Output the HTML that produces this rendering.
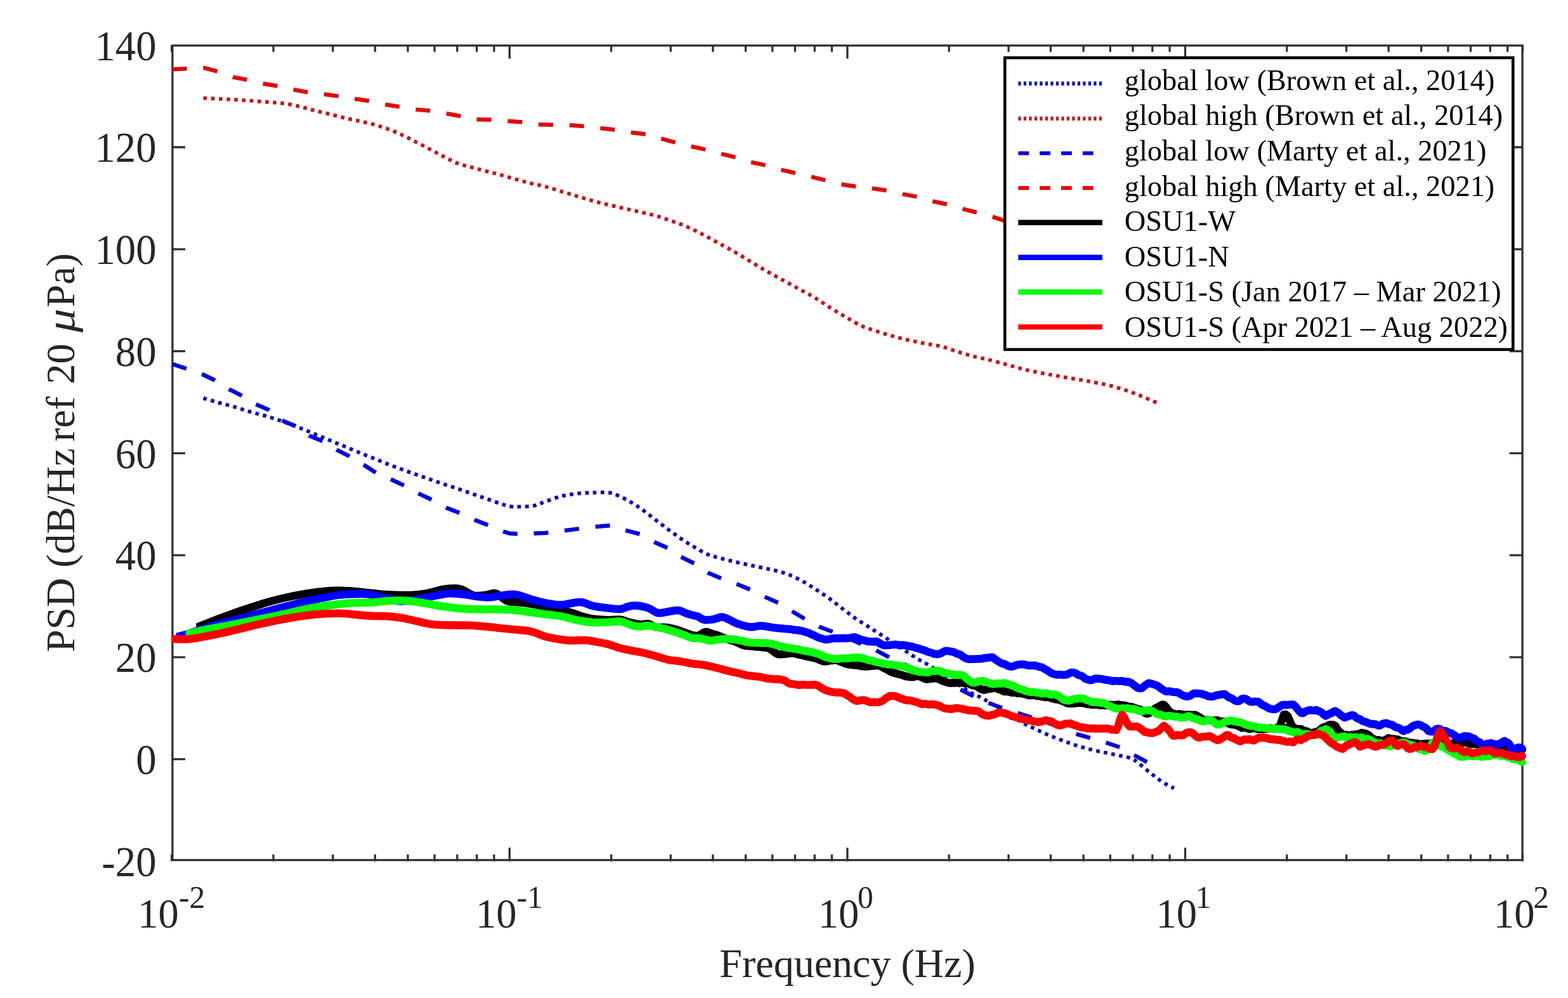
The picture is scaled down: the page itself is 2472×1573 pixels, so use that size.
<!DOCTYPE html>
<html lang="en"><head><meta charset="utf-8"><title>PSD noise comparison</title>
<style>html,body{margin:0;padding:0;background:#fff}body{width:2472px;height:1573px;overflow:hidden}svg{display:block}text{font-family:"Liberation Serif","DejaVu Serif",serif}.t{font-size:64px;fill:#262626}.s{font-size:49px;fill:#262626}.l{font-size:46.4px;fill:#000}.c{fill:none;stroke-linejoin:round}</style></head><body>
<svg xmlns="http://www.w3.org/2000/svg" width="2472" height="1573" viewBox="0 0 2472 1573">
<rect width="2472" height="1573" fill="#fff"/>
<path d="M270.7 1357.4v-10.6M270.7 71.2v10.6M431.0 1357.4v-10.6M431.0 71.2v10.6M524.8 1357.4v-10.6M524.8 71.2v10.6M591.3 1357.4v-10.6M591.3 71.2v10.6M643.0 1357.4v-10.6M643.0 71.2v10.6M685.1 1357.4v-10.6M685.1 71.2v10.6M720.8 1357.4v-10.6M720.8 71.2v10.6M751.7 1357.4v-10.6M751.7 71.2v10.6M778.9 1357.4v-10.6M778.9 71.2v10.6M803.3 1357.4v-21.3M803.3 71.2v21.3M963.6 1357.4v-10.6M963.6 71.2v10.6M1057.4 1357.4v-10.6M1057.4 71.2v10.6M1123.9 1357.4v-10.6M1123.9 71.2v10.6M1175.6 1357.4v-10.6M1175.6 71.2v10.6M1217.7 1357.4v-10.6M1217.7 71.2v10.6M1253.4 1357.4v-10.6M1253.4 71.2v10.6M1284.3 1357.4v-10.6M1284.3 71.2v10.6M1311.5 1357.4v-10.6M1311.5 71.2v10.6M1335.9 1357.4v-21.3M1335.9 71.2v21.3M1496.2 1357.4v-10.6M1496.2 71.2v10.6M1590.0 1357.4v-10.6M1590.0 71.2v10.6M1656.5 1357.4v-10.6M1656.5 71.2v10.6M1708.1 1357.4v-10.6M1708.1 71.2v10.6M1750.3 1357.4v-10.6M1750.3 71.2v10.6M1786.0 1357.4v-10.6M1786.0 71.2v10.6M1816.8 1357.4v-10.6M1816.8 71.2v10.6M1844.1 1357.4v-10.6M1844.1 71.2v10.6M1868.5 1357.4v-21.3M1868.5 71.2v21.3M2028.8 1357.4v-10.6M2028.8 71.2v10.6M2122.6 1357.4v-10.6M2122.6 71.2v10.6M2189.1 1357.4v-10.6M2189.1 71.2v10.6M2240.7 1357.4v-10.6M2240.7 71.2v10.6M2282.9 1357.4v-10.6M2282.9 71.2v10.6M2318.6 1357.4v-10.6M2318.6 71.2v10.6M2349.4 1357.4v-10.6M2349.4 71.2v10.6M2376.7 1357.4v-10.6M2376.7 71.2v10.6M2400.5 1357.4v-10.6M2400.5 71.2v10.6M270.7 1196.6h21.3M2401.1 1196.6h-21.3M270.7 1035.8h21.3M2401.1 1035.8h-21.3M270.7 875.1h21.3M2401.1 875.1h-21.3M270.7 714.3h21.3M2401.1 714.3h-21.3M270.7 553.5h21.3M2401.1 553.5h-21.3M270.7 392.8h21.3M2401.1 392.8h-21.3M270.7 232.0h21.3M2401.1 232.0h-21.3" fill="none" stroke="#303030" stroke-width="3.3"/>
<rect x="271.9" y="71.8" width="2128.2" height="1283.8" fill="none" stroke="#303030" stroke-width="3.3"/>
<g class="c">
<path d="M320.5 627.6C324.5 628.8 336.5 632.3 344.7 634.6C352.9 636.9 361.3 638.9 369.6 641.3C377.9 643.7 386.3 646.7 394.6 649.1C402.9 651.5 411.2 653.3 419.5 655.8C427.8 658.2 436.1 660.9 444.4 663.8C452.7 666.7 461.0 670.0 469.3 673.2C477.6 676.4 485.9 679.8 494.2 683.2C502.5 686.6 510.8 690.2 519.1 693.7C527.4 697.2 535.8 700.5 544.1 703.9C552.4 707.3 560.7 711.0 569.0 714.4C577.3 717.8 585.6 721.0 593.9 724.3C602.2 727.6 610.5 731.1 618.8 734.3C627.1 737.5 635.4 740.5 643.7 743.5C652.0 746.5 660.3 749.3 668.6 752.2C676.9 755.1 685.3 758.2 693.6 761.0C701.9 763.8 710.2 766.4 718.5 769.2C726.8 772.0 735.1 775.0 743.4 777.9C751.7 780.8 760.0 783.7 768.3 786.6C776.6 789.5 787.0 793.3 793.2 795.3C799.4 797.2 801.6 797.8 805.7 798.3C809.9 798.8 812.3 798.8 818.1 798.6C823.9 798.4 833.6 798.6 840.6 797.3C847.6 795.9 852.6 793.0 860.0 790.5C867.4 788.0 876.6 784.3 884.9 782.2C893.2 780.1 901.5 779.0 909.8 778.0C918.1 777.0 926.4 776.8 934.7 776.5C943.0 776.2 953.5 775.9 959.7 776.5C965.9 777.1 966.3 777.7 972.1 780.2C977.9 782.7 987.5 787.3 994.6 791.4C1001.7 795.5 1007.9 799.9 1014.5 804.7C1021.1 809.5 1027.8 815.0 1034.4 820.1C1041.1 825.2 1047.8 830.4 1054.4 835.3C1061.1 840.2 1067.7 845.0 1074.3 849.5C1080.9 854.0 1087.5 858.0 1094.2 862.0C1100.9 866.0 1107.6 870.3 1114.2 873.2C1120.8 876.1 1126.6 877.3 1134.1 879.4C1141.6 881.5 1150.7 883.6 1159.0 885.6C1167.3 887.6 1175.6 889.3 1183.9 891.1C1192.2 892.9 1201.7 894.8 1208.8 896.3C1215.9 897.8 1220.1 898.4 1226.3 900.1C1232.5 901.9 1239.2 903.8 1246.2 906.8C1253.2 909.8 1261.5 914.0 1268.6 918.0C1275.7 922.0 1281.9 926.1 1288.6 930.5C1295.2 934.9 1301.9 939.4 1308.5 944.2C1315.1 949.0 1321.8 954.4 1328.4 959.5C1335.1 964.6 1341.8 970.0 1348.4 974.6C1355.1 979.2 1361.7 983.1 1368.3 987.3C1374.9 991.5 1381.5 995.7 1388.2 1000.0C1394.9 1004.3 1401.6 1008.6 1408.2 1013.0C1414.8 1017.4 1421.5 1022.0 1428.1 1026.4C1434.7 1030.8 1441.5 1035.3 1448.0 1039.3C1454.5 1043.3 1453.9 1041.8 1467.1 1050.2C1480.2 1058.6 1513.6 1081.4 1526.9 1089.6C1540.2 1097.8 1541.1 1096.4 1546.9 1099.5C1552.7 1102.6 1551.4 1102.0 1561.8 1108.3C1572.2 1114.6 1598.0 1130.9 1609.2 1137.4C1620.4 1143.9 1622.5 1144.2 1629.1 1147.4C1635.7 1150.6 1642.3 1153.9 1649.0 1156.8C1655.7 1159.7 1662.3 1162.2 1669.0 1164.8C1675.7 1167.4 1682.3 1170.0 1688.9 1172.3C1695.5 1174.6 1702.2 1176.6 1708.8 1178.5C1715.4 1180.4 1722.1 1182.0 1728.8 1183.5C1735.5 1185.0 1742.1 1186.1 1748.7 1187.5C1755.3 1188.9 1762.8 1190.4 1768.6 1191.7C1774.4 1193.0 1779.4 1193.8 1783.6 1195.5C1787.8 1197.2 1789.4 1198.6 1793.6 1201.7C1797.8 1204.8 1803.5 1210.1 1808.5 1214.2C1813.5 1218.3 1818.5 1222.4 1823.5 1226.1C1828.5 1229.8 1833.8 1233.4 1838.4 1236.1C1843.0 1238.8 1848.8 1241.3 1850.9 1242.3" stroke="#0808b8" stroke-width="5.8" stroke-dasharray="5.7 6.505"/>
<path d="M320.5 154.7C324.9 154.9 338.6 155.5 347.2 155.9C355.8 156.3 363.8 156.7 372.1 157.2C380.4 157.7 388.7 158.3 397.0 158.9C405.3 159.5 414.1 160.3 422.0 160.9C429.9 161.5 436.5 161.7 444.4 162.7C452.3 163.7 461.2 165.3 469.3 167.1C477.4 168.9 485.1 171.4 493.0 173.4C500.9 175.4 508.7 177.2 516.6 179.1C524.5 181.0 532.4 183.2 540.3 185.1C548.2 187.0 556.1 188.5 564.0 190.3C571.9 192.1 579.8 193.6 587.7 195.8C595.6 198.0 603.6 200.5 611.3 203.3C619.0 206.1 626.3 209.2 633.8 212.7C641.3 216.1 648.7 220.2 656.2 224.0C663.7 227.8 671.3 231.9 678.6 235.7C685.9 239.5 692.7 243.3 699.8 246.9C706.9 250.5 713.7 254.5 721.0 257.3C728.3 260.1 735.7 261.5 743.4 263.6C751.1 265.7 759.2 267.9 767.1 270.0C775.0 272.1 782.8 273.8 790.7 276.0C798.6 278.2 806.5 280.8 814.4 283.0C822.3 285.2 830.5 287.3 838.1 289.2C845.7 291.1 852.2 292.1 860.0 294.2C867.8 296.3 876.6 299.2 884.9 301.7C893.2 304.2 901.5 306.7 909.8 309.2C918.1 311.7 926.4 314.3 934.7 316.6C943.0 318.9 951.4 320.9 959.7 322.9C968.0 324.9 976.3 326.7 984.6 328.6C992.9 330.5 1001.2 332.2 1009.5 334.1C1017.8 336.1 1026.1 337.9 1034.4 340.3C1042.7 342.7 1051.0 345.6 1059.3 348.5C1067.6 351.4 1075.9 354.2 1084.2 357.8C1092.5 361.4 1100.9 365.9 1109.2 370.2C1117.5 374.5 1125.8 379.3 1134.1 383.9C1142.4 388.5 1150.5 392.7 1159.0 397.6C1167.5 402.5 1176.4 408.1 1184.9 413.2C1193.4 418.3 1201.5 423.3 1209.8 428.1C1218.1 432.9 1226.5 437.2 1234.8 441.8C1243.1 446.4 1251.4 450.9 1259.7 455.5C1268.0 460.1 1276.3 464.2 1284.6 469.2C1292.9 474.2 1301.2 480.2 1309.5 485.4C1317.8 490.6 1326.1 495.6 1334.4 500.4C1342.7 505.2 1351.0 510.4 1359.3 514.1C1367.6 517.8 1376.0 520.1 1384.3 522.8C1392.6 525.5 1400.9 528.0 1409.2 530.3C1417.5 532.6 1425.8 534.6 1434.1 536.5C1442.4 538.4 1450.7 539.9 1459.0 541.5C1467.3 543.1 1475.6 543.9 1483.9 546.0C1492.2 548.1 1500.5 551.4 1508.8 554.0C1517.1 556.6 1525.3 559.2 1533.8 561.4C1542.3 563.6 1551.5 565.2 1560.0 567.3C1568.5 569.4 1576.9 571.8 1584.9 574.0C1592.9 576.2 1600.5 578.6 1608.2 580.6C1616.0 582.6 1623.4 584.2 1631.4 585.9C1639.4 587.6 1648.3 589.1 1656.3 590.6C1664.3 592.1 1671.6 593.4 1679.6 594.8C1687.6 596.2 1696.5 597.5 1704.5 598.9C1712.5 600.3 1720.0 601.6 1727.8 603.1C1735.5 604.6 1743.0 605.9 1751.0 608.0C1759.0 610.1 1767.9 612.8 1775.9 615.5C1783.9 618.2 1791.6 621.2 1799.2 624.3C1806.8 627.3 1816.6 631.7 1821.6 633.8C1826.6 635.9 1827.8 636.5 1829.0 637.0" stroke="#c4141c" stroke-width="5.8" stroke-dasharray="5.7 6.505"/>
<path d="M271.2 573.6L293.6 581.0L318.6 589.8L338.5 599.2L360.9 613.4L380.8 623.4L403.3 637.1L423.2 645.8L443.1 662.0L465.6 671.5L488.0 687.0L509.2 695.7L531.6 709.4L550.3 718.8L574.0 733.0L592.6 745.0L616.3 755.5L637.5 765.4L659.9 777.9L681.1 787.9L703.5 800.3L724.7 808.5L747.1 819.0L769.6 827.7L793.2 837.7L803.2 840.7L815.6 841.4L840.6 840.9L860.0 840.0L889.9 836.3L913.6 833.3L938.5 830.3L962.2 828.3L985.8 835.8L1009.5 842.0L1030.7 854.0L1053.1 864.0L1073.0 877.4L1095.5 888.6L1116.6 903.1L1137.8 911.8L1161.5 920.5L1183.9 929.7L1205.1 940.4L1227.5 950.4L1247.5 962.9L1269.9 976.1L1291.1 987.8L1314.7 996.5L1380.8 1025.0L1402.3 1036.3L1514.5 1087.0L1532.0 1095.8L1559.3 1108.3L1579.3 1115.7L1621.6 1129.4L1666.5 1144.4L1696.4 1156.8L1718.8 1163.1L1743.7 1170.5L1766.1 1178.0L1788.6 1190.5L1808.5 1201.2" stroke="#0404dc" stroke-width="6.5" stroke-dasharray="23.1 25.77" stroke-dashoffset="-0.8"/>
<path d="M271.2 109.3L294.9 108.3L322.3 107.1L342.2 112.3L367.1 121.5L389.6 125.8L414.5 131.8L438.2 135.7L463.1 141.2L485.5 145.5L510.4 148.5L534.1 151.7L559.0 155.7L582.7 159.2L607.6 164.7L631.3 168.4L654.9 172.6L678.6 174.6L703.5 178.9L727.2 183.1L750.9 188.3L774.5 188.8L799.5 190.6L823.1 192.6L848.0 196.3L872.5 196.8L897.4 197.3L921.0 199.0L946.0 202.0L969.6 204.5L994.6 208.8L1018.2 211.5L1043.1 218.7L1065.6 225.0L1089.2 230.7L1112.9 235.7L1137.8 242.6L1160.3 248.1L1183.9 255.6L1207.6 260.6L1231.3 267.6L1254.9 273.0L1278.6 278.5L1302.3 284.3L1326.0 290.5L1350.4 294.2L1374.5 296.7L1399.5 300.5L1423.1 305.9L1446.8 310.4L1470.2 317.2L1493.9 322.2L1517.6 329.2L1541.2 335.2L1564.9 341.7L1582.4 347.6L1600.0 353.5" stroke="#e00a0a" stroke-width="6.5" stroke-dasharray="23.1 25.75" stroke-dashoffset="-0.3"/>
<defs><clipPath id="k0"><rect x="309.2" y="0" width="2300" height="1573"/></clipPath><clipPath id="k1"><rect x="277.4" y="0" width="2300" height="1573"/></clipPath><clipPath id="k2"><rect x="292.6" y="0" width="2300" height="1573"/></clipPath><clipPath id="k3"><rect x="270.3" y="0" width="2300" height="1573"/></clipPath></defs>
<path d="M301.2 992.7L309.2 989.4C313.4 987.7 326.3 982.2 334.7 979.0C343.1 975.8 351.4 972.9 359.7 969.9C368.0 966.9 376.3 963.8 384.6 961.0C392.9 958.2 401.2 955.4 409.5 952.9C417.8 950.4 426.1 947.9 434.4 945.8C442.7 943.6 451.0 941.7 459.3 940.0C467.6 938.3 475.9 936.7 484.2 935.4C492.5 934.1 500.9 932.9 509.2 932.1C517.5 931.3 525.6 930.8 534.1 930.8C542.6 930.8 547.4 931.2 560.0 932.3C572.6 933.4 595.3 936.4 609.8 937.3C624.3 938.2 636.8 938.2 647.2 937.9C657.6 937.6 663.8 936.8 672.1 935.4C680.4 934.0 689.7 930.6 697.0 929.2C704.3 927.9 710.5 927.3 715.7 927.3C720.9 927.3 723.0 927.3 728.2 929.2C733.4 931.1 740.7 937.2 746.9 938.6C753.1 940.0 759.8 938.4 765.6 937.9C771.4 937.4 776.1 933.8 781.8 935.4C787.5 937.0 793.4 944.9 800.0 947.3C806.6 949.7 814.9 949.0 821.6 949.8C828.3 950.6 833.9 951.2 840.3 952.3C846.7 953.4 850.5 954.4 860.0 956.5C869.5 958.6 888.0 962.4 897.4 964.8C906.8 967.2 909.9 969.2 916.1 971.0C922.3 972.8 927.4 974.4 934.7 975.4C942.0 976.4 952.4 977.0 959.7 977.2C967.0 977.4 973.2 976.1 978.4 976.6C983.6 977.1 985.6 979.1 990.8 980.4C996.0 981.6 1004.3 983.6 1009.5 984.1C1014.7 984.6 1017.9 982.5 1022.0 983.2C1026.2 983.9 1029.2 987.5 1034.4 988.5C1039.6 989.5 1046.9 988.2 1053.1 989.1C1059.3 990.0 1065.6 992.1 1071.8 994.1C1078.0 996.1 1085.9 999.5 1090.5 1000.9C1095.1 1002.2 1097.6 1002.0 1099.2 1002.2C1100.8 1002.4 1099.9 1002.1 1100.0 1002.1L1103.0 1001.0 1106.0 999.1 1109.0 997.1 1112.0 996.0 1115.0 996.1 1118.0 997.1 1121.0 998.2 1124.0 999.2 1127.0 1000.0 1130.0 1000.9 1133.0 1002.0 1136.0 1003.3 1139.0 1004.5 1142.0 1005.7 1145.0 1006.8 1148.0 1007.7 1151.0 1008.7 1154.0 1009.5 1157.0 1010.6 1160.0 1011.7 1163.0 1013.0 1166.0 1014.5 1169.0 1016.0 1172.0 1017.0 1175.0 1017.6 1178.0 1018.1 1181.0 1018.2 1184.0 1018.5 1187.0 1018.8 1190.0 1019.2 1193.0 1019.4 1196.0 1019.6 1199.0 1019.9 1202.0 1020.3 1205.0 1020.6 1208.0 1020.8 1211.0 1021.2 1214.0 1022.8 1217.0 1024.9 1220.0 1027.2 1223.0 1029.4 1226.0 1031.0 1229.0 1031.4 1232.0 1031.2 1235.0 1031.1 1238.0 1030.9 1241.0 1030.4 1244.0 1030.0 1247.0 1029.8 1250.0 1029.8 1253.0 1030.1 1256.0 1030.8 1259.0 1031.8 1262.0 1032.3 1265.0 1032.8 1268.0 1033.8 1271.0 1034.4 1274.0 1035.0 1277.0 1035.7 1280.0 1036.5 1283.0 1036.9 1286.0 1037.5 1289.0 1038.8 1292.0 1040.2 1295.0 1041.3 1298.0 1042.2 1301.0 1042.4 1304.0 1042.3 1307.0 1041.5 1310.0 1041.0 1313.0 1040.9 1316.0 1040.4 1319.0 1040.7 1322.0 1041.6 1325.0 1042.9 1328.0 1044.0 1331.0 1045.0 1334.0 1046.4 1337.0 1047.0 1340.0 1047.5 1343.0 1048.1 1346.0 1048.2 1349.0 1048.4 1352.0 1048.6 1355.0 1049.3 1358.0 1050.0 1361.0 1050.3 1364.0 1050.6 1367.0 1050.5 1370.0 1050.3 1373.0 1049.7 1376.0 1049.6 1379.0 1049.2 1382.0 1048.9 1385.0 1048.9 1388.0 1049.8 1391.0 1051.5 1394.0 1053.3 1397.0 1054.6 1400.0 1056.0 1403.0 1058.1 1406.0 1059.5 1409.0 1060.6 1412.0 1061.3 1415.0 1062.1 1418.0 1062.8 1421.0 1063.5 1424.0 1064.7 1427.0 1065.8 1430.0 1066.4 1433.0 1066.5 1436.0 1067.1 1439.0 1067.2 1442.0 1066.6 1445.0 1065.5 1448.0 1065.8 1451.0 1066.6 1454.0 1067.9 1457.0 1069.5 1460.0 1070.6 1463.0 1070.5 1466.0 1069.9 1469.0 1069.5 1472.0 1069.4 1475.0 1069.1 1478.0 1069.5 1481.0 1070.9 1484.0 1072.4 1487.0 1073.8 1490.0 1074.4 1493.0 1075.6 1496.0 1076.3 1499.0 1076.8 1502.0 1076.4 1505.0 1076.6 1508.0 1076.1 1511.0 1075.8 1514.0 1076.3 1517.0 1076.3 1520.0 1076.7 1523.0 1077.1 1526.0 1077.3 1529.0 1078.6 1532.0 1079.6 1535.0 1080.4 1538.0 1081.1 1541.0 1082.3 1544.0 1084.6 1547.0 1086.4 1550.0 1087.4 1553.0 1087.2 1556.0 1086.2 1559.0 1085.8 1562.0 1085.5 1565.0 1084.9 1568.0 1084.3 1571.0 1084.8 1574.0 1086.3 1577.0 1086.9 1580.0 1088.5 1583.0 1090.0 1586.0 1089.9 1589.0 1089.7 1592.0 1091.0 1595.0 1091.7 1598.0 1091.6 1601.0 1091.8 1604.0 1092.7 1607.0 1092.8 1610.0 1092.6 1613.0 1093.6 1616.0 1094.2 1619.0 1095.0 1622.0 1096.0 1625.0 1095.9 1628.0 1095.8 1631.0 1095.7 1634.0 1096.8 1637.0 1096.6 1640.0 1097.5 1643.0 1098.1 1646.0 1098.6 1649.0 1099.1 1652.0 1098.9 1655.0 1099.2 1658.0 1100.8 1661.0 1101.2 1664.0 1102.2 1667.0 1102.5 1670.0 1103.0 1673.0 1104.4 1676.0 1105.2 1679.0 1106.7 1682.0 1108.4 1685.0 1108.8 1688.0 1109.0 1691.0 1108.9 1694.0 1108.8 1697.0 1108.0 1700.0 1107.8 1703.0 1108.0 1706.0 1108.1 1709.0 1108.6 1712.0 1109.2 1715.0 1110.1 1718.0 1110.2 1721.0 1110.8 1724.0 1110.8 1727.0 1110.5 1730.0 1110.7 1733.0 1111.6 1736.0 1111.2 1739.0 1111.5 1742.0 1112.0 1745.0 1111.5 1748.0 1110.7 1751.0 1110.9 1754.0 1110.9 1757.0 1111.4 1760.0 1110.8 1763.0 1110.5 1766.0 1111.1 1769.0 1111.6 1772.0 1111.7 1775.0 1112.3 1778.0 1113.4 1781.0 1114.0 1784.0 1114.0 1787.0 1115.1 1790.0 1116.3 1793.0 1117.3 1796.0 1117.8 1799.0 1119.0 1802.0 1121.7 1805.0 1123.7 1808.0 1124.9 1811.0 1124.6 1814.0 1122.0 1817.0 1120.0 1820.0 1117.5 1823.0 1115.5 1826.0 1114.0 1829.0 1112.4 1832.0 1110.7 1835.0 1110.8 1838.0 1113.8 1841.0 1118.0 1844.0 1121.4 1847.0 1123.8 1850.0 1124.5 1853.0 1125.6 1856.0 1125.9 1859.0 1125.2 1862.0 1126.0 1865.0 1126.3 1868.0 1126.7 1871.0 1126.6 1874.0 1126.3 1877.0 1127.1 1880.0 1126.8 1883.0 1126.7 1886.0 1127.4 1889.0 1129.1 1892.0 1130.9 1895.0 1133.3 1898.0 1134.6 1901.0 1135.2 1904.0 1134.7 1907.0 1135.3 1910.0 1135.6 1913.0 1135.5 1916.0 1135.4 1919.0 1135.3 1922.0 1136.3 1925.0 1137.4 1928.0 1136.9 1931.0 1137.1 1934.0 1138.9 1937.0 1140.5 1940.0 1141.7 1943.0 1142.0 1946.0 1142.4 1949.0 1143.0 1952.0 1144.3 1955.0 1145.8 1958.0 1147.4 1961.0 1147.1 1964.0 1147.0 1967.0 1148.3 1970.0 1149.1 1973.0 1148.4 1976.0 1148.1 1979.0 1148.1 1982.0 1149.2 1985.0 1149.3 1988.0 1148.9 1991.0 1149.6 1994.0 1149.0 1997.0 1149.1 2000.0 1148.4 2003.0 1147.6 2006.0 1148.2 2009.0 1148.5 2012.0 1147.5 2015.0 1146.0 2018.0 1143.9 2021.0 1135.2 2024.0 1126.3 2027.0 1126.1 2030.0 1128.4 2033.0 1135.4 2036.0 1142.1 2039.0 1146.5 2042.0 1148.0 2045.0 1148.7 2048.0 1149.1 2051.0 1149.1 2054.0 1150.6 2057.0 1152.2 2060.0 1152.5 2063.0 1153.8 2066.0 1155.3 2069.0 1155.2 2072.0 1154.3 2075.0 1153.3 2078.0 1152.8 2081.0 1150.2 2084.0 1147.6 2087.0 1146.1 2090.0 1145.5 2093.0 1143.9 2096.0 1142.5 2099.0 1142.1 2102.0 1142.4 2105.0 1143.8 2108.0 1148.7 2111.0 1152.9 2114.0 1154.8 2117.0 1157.8 2120.0 1158.7 2123.0 1158.3 2126.0 1159.3 2129.0 1158.9 2132.0 1157.9 2135.0 1157.9 2138.0 1157.3 2141.0 1157.2 2144.0 1156.1 2147.0 1154.9 2150.0 1155.7 2153.0 1156.2 2156.0 1157.6 2159.0 1159.5 2162.0 1163.6 2165.0 1164.4 2168.0 1166.2 2171.0 1166.5 2174.0 1166.2 2177.0 1167.8 2180.0 1168.2 2183.0 1166.4 2186.0 1165.4 2189.0 1163.2 2192.0 1164.0 2195.0 1164.8 2198.0 1164.6 2201.0 1165.6 2204.0 1165.6 2207.0 1167.4 2210.0 1168.9 2213.0 1168.3 2216.0 1168.7 2219.0 1169.7 2222.0 1170.7 2225.0 1170.7 2228.0 1170.9 2231.0 1171.9 2234.0 1171.6 2237.0 1172.7 2240.0 1172.9 2243.0 1172.4 2246.0 1172.7 2249.0 1171.7 2252.0 1172.7 2255.0 1171.5 2258.0 1171.3 2261.0 1172.7 2264.0 1171.0 2267.0 1171.1 2270.0 1172.5 2273.0 1172.9 2276.0 1171.2 2279.0 1171.0 2282.0 1172.2 2285.0 1171.8 2288.0 1172.0 2291.0 1171.8 2294.0 1169.9 2297.0 1169.8 2300.0 1171.6 2303.0 1171.3 2306.0 1170.7 2309.0 1170.5 2312.0 1170.2 2315.0 1171.6 2318.0 1171.8 2321.0 1172.9 2324.0 1171.7 2327.0 1173.0 2330.0 1172.5 2333.0 1173.7 2336.0 1174.2 2339.0 1174.8 2342.0 1174.8 2345.0 1174.1 2348.0 1176.0 2351.0 1176.7 2354.0 1175.5 2357.0 1176.3 2360.0 1176.2 2363.0 1176.5 2366.0 1177.6 2369.0 1178.3 2372.0 1177.5 2375.0 1177.4 2378.0 1178.6 2381.0 1179.6 2384.0 1180.9 2387.0 1181.1 2390.0 1181.8 2393.0 1181.6 2396.0 1181.2 2399.0 1181.7 2401.0 1181.6" stroke="#000" stroke-width="12.5" clip-path="url(#k0)"/><circle cx="2400.0" cy="1181.6" r="6.1" fill="#000" stroke="none"/>
<path d="M2013.0 1147.3L2041.0 1147.8" stroke="#000" stroke-width="12.5"/>
<path d="M1825.0 1119.5L1842.0 1121.0" stroke="#000" stroke-width="12.5"/>
<path d="M269.4 1006.0L277.4 1004.0C279.9 1003.4 283.1 1003.1 292.6 1000.2C302.2 997.3 319.4 991.0 334.7 986.5C350.0 982.0 368.0 977.8 384.6 973.4C401.2 969.0 419.9 963.8 434.4 960.0C448.9 956.2 459.3 953.6 471.8 950.6C484.3 947.6 498.8 944.4 509.2 942.3C519.6 940.2 525.6 938.9 534.1 937.9C542.6 936.9 551.5 936.3 560.0 936.2C568.5 936.1 574.5 935.6 584.9 937.3C595.3 939.0 611.9 945.0 622.3 946.6C632.7 948.2 638.9 947.4 647.2 946.6C655.5 945.8 665.9 942.9 672.1 941.7C678.3 940.5 678.4 940.3 684.6 939.2C690.8 938.1 701.2 935.5 709.5 935.2C717.8 934.9 727.1 936.4 734.4 937.3C741.7 938.2 746.9 939.7 753.1 940.4C759.3 941.1 765.6 941.6 771.8 941.3C778.0 941.0 784.3 939.4 790.5 938.6C796.7 937.8 804.0 936.6 809.2 936.7C814.4 936.8 816.4 937.8 821.6 939.2C826.8 940.7 833.9 943.5 840.3 945.4C846.7 947.3 852.6 949.2 860.0 950.5C867.4 951.8 875.8 953.5 884.9 953.3C894.0 953.0 906.5 948.7 914.8 949.0C923.1 949.3 927.2 953.5 934.7 955.1C942.2 956.7 952.4 957.8 959.7 958.6C967.0 959.4 973.2 960.5 978.4 960.0C983.6 959.5 986.6 956.7 990.8 955.8C994.9 954.9 998.1 954.2 1003.3 954.6C1008.5 955.0 1016.4 956.4 1022.0 958.3C1027.6 960.2 1031.7 965.0 1036.9 966.0C1042.1 967.0 1047.7 964.9 1053.1 964.2C1058.5 963.5 1064.1 961.5 1069.3 962.0C1074.5 962.5 1079.2 966.0 1084.2 967.5C1089.2 969.0 1096.6 970.6 1099.2 971.3C1101.8 972.0 1099.9 971.6 1100.0 971.6L1103.0 973.2 1106.0 975.1 1109.0 976.6 1112.0 977.2 1115.0 977.1 1118.0 976.9 1121.0 976.6 1124.0 976.2 1127.0 975.6 1130.0 974.7 1133.0 973.6 1136.0 972.7 1139.0 972.5 1142.0 973.3 1145.0 974.5 1148.0 975.9 1151.0 977.4 1154.0 978.8 1157.0 980.6 1160.0 981.9 1163.0 983.1 1166.0 984.1 1169.0 985.1 1172.0 986.0 1175.0 986.7 1178.0 987.5 1181.0 988.0 1184.0 988.3 1187.0 988.3 1190.0 987.7 1193.0 987.1 1196.0 986.7 1199.0 986.4 1202.0 986.5 1205.0 986.9 1208.0 987.4 1211.0 987.9 1214.0 988.4 1217.0 988.9 1220.0 989.4 1223.0 989.6 1226.0 990.0 1229.0 990.3 1232.0 990.5 1235.0 990.8 1238.0 991.1 1241.0 991.4 1244.0 991.6 1247.0 991.8 1250.0 992.5 1253.0 993.0 1256.0 993.1 1259.0 993.5 1262.0 994.1 1265.0 994.6 1268.0 995.5 1271.0 996.5 1274.0 997.3 1277.0 998.6 1280.0 1000.1 1283.0 1001.3 1286.0 1002.7 1289.0 1004.4 1292.0 1005.4 1295.0 1006.3 1298.0 1007.2 1301.0 1008.0 1304.0 1008.1 1307.0 1007.6 1310.0 1006.8 1313.0 1006.2 1316.0 1006.2 1319.0 1005.9 1322.0 1006.2 1325.0 1005.9 1328.0 1005.9 1331.0 1005.7 1334.0 1005.9 1337.0 1005.9 1340.0 1005.5 1343.0 1005.0 1346.0 1004.3 1349.0 1004.6 1352.0 1005.9 1355.0 1007.3 1358.0 1008.3 1361.0 1009.0 1364.0 1009.7 1367.0 1010.7 1370.0 1011.0 1373.0 1011.3 1376.0 1011.5 1379.0 1011.5 1382.0 1011.0 1385.0 1012.5 1388.0 1014.8 1391.0 1016.1 1394.0 1017.1 1397.0 1017.1 1400.0 1016.9 1403.0 1016.7 1406.0 1016.4 1409.0 1016.1 1412.0 1015.8 1415.0 1016.4 1418.0 1017.0 1421.0 1016.8 1424.0 1016.8 1427.0 1017.2 1430.0 1017.6 1433.0 1018.5 1436.0 1018.8 1439.0 1019.4 1442.0 1020.5 1445.0 1021.3 1448.0 1021.9 1451.0 1023.2 1454.0 1024.0 1457.0 1024.9 1460.0 1026.1 1463.0 1027.5 1466.0 1028.3 1469.0 1029.0 1472.0 1030.5 1475.0 1030.8 1478.0 1031.2 1481.0 1030.7 1484.0 1029.3 1487.0 1027.6 1490.0 1025.9 1493.0 1025.8 1496.0 1026.3 1499.0 1026.8 1502.0 1027.4 1505.0 1028.3 1508.0 1029.9 1511.0 1030.8 1514.0 1031.9 1517.0 1034.1 1520.0 1036.2 1523.0 1038.0 1526.0 1038.7 1529.0 1038.9 1532.0 1038.8 1535.0 1038.8 1538.0 1038.8 1541.0 1038.4 1544.0 1038.4 1547.0 1038.2 1550.0 1037.8 1553.0 1036.9 1556.0 1036.8 1559.0 1036.6 1562.0 1036.0 1565.0 1036.1 1568.0 1038.4 1571.0 1040.5 1574.0 1042.5 1577.0 1044.3 1580.0 1045.8 1583.0 1046.4 1586.0 1047.9 1589.0 1049.4 1592.0 1050.5 1595.0 1050.8 1598.0 1050.0 1601.0 1048.8 1604.0 1047.7 1607.0 1047.4 1610.0 1047.0 1613.0 1047.2 1616.0 1047.5 1619.0 1048.4 1622.0 1049.1 1625.0 1049.1 1628.0 1048.9 1631.0 1048.7 1634.0 1049.7 1637.0 1050.5 1640.0 1051.4 1643.0 1051.9 1646.0 1053.9 1649.0 1055.2 1652.0 1057.3 1655.0 1059.2 1658.0 1061.2 1661.0 1062.3 1664.0 1063.1 1667.0 1063.6 1670.0 1063.2 1673.0 1063.4 1676.0 1063.9 1679.0 1063.7 1682.0 1063.2 1685.0 1061.6 1688.0 1060.3 1691.0 1059.9 1694.0 1060.4 1697.0 1061.8 1700.0 1063.9 1703.0 1064.6 1706.0 1065.6 1709.0 1068.2 1712.0 1070.2 1715.0 1071.0 1718.0 1071.9 1721.0 1072.0 1724.0 1070.7 1727.0 1069.6 1730.0 1069.5 1733.0 1070.1 1736.0 1070.0 1739.0 1070.7 1742.0 1071.5 1745.0 1071.8 1748.0 1072.1 1751.0 1073.0 1754.0 1073.7 1757.0 1073.3 1760.0 1073.3 1763.0 1073.6 1766.0 1073.4 1769.0 1073.2 1772.0 1074.1 1775.0 1074.8 1778.0 1074.3 1781.0 1075.4 1784.0 1076.8 1787.0 1079.2 1790.0 1081.5 1793.0 1083.9 1796.0 1084.6 1799.0 1085.0 1802.0 1083.3 1805.0 1080.4 1808.0 1078.4 1811.0 1076.7 1814.0 1077.3 1817.0 1078.1 1820.0 1079.1 1823.0 1080.2 1826.0 1081.7 1829.0 1084.2 1832.0 1086.1 1835.0 1088.1 1838.0 1089.8 1841.0 1089.8 1844.0 1089.4 1847.0 1090.3 1850.0 1090.8 1853.0 1091.0 1856.0 1091.1 1859.0 1092.5 1862.0 1094.5 1865.0 1096.1 1868.0 1097.2 1871.0 1097.9 1874.0 1097.5 1877.0 1096.4 1880.0 1094.1 1883.0 1092.8 1886.0 1093.1 1889.0 1092.9 1892.0 1093.2 1895.0 1093.7 1898.0 1095.0 1901.0 1095.7 1904.0 1097.2 1907.0 1097.8 1910.0 1097.9 1913.0 1097.7 1916.0 1096.4 1919.0 1095.5 1922.0 1095.2 1925.0 1094.6 1928.0 1094.3 1931.0 1094.1 1934.0 1096.5 1937.0 1099.1 1940.0 1099.9 1943.0 1101.3 1946.0 1103.9 1949.0 1105.0 1952.0 1105.2 1955.0 1104.2 1958.0 1101.4 1961.0 1101.0 1964.0 1101.6 1967.0 1103.3 1970.0 1105.7 1973.0 1106.1 1976.0 1106.2 1979.0 1105.6 1982.0 1105.9 1985.0 1106.7 1988.0 1109.3 1991.0 1111.4 1994.0 1112.6 1997.0 1114.6 2000.0 1115.9 2003.0 1117.2 2006.0 1117.6 2009.0 1118.1 2012.0 1117.4 2015.0 1115.3 2018.0 1113.1 2021.0 1111.3 2024.0 1110.8 2027.0 1111.2 2030.0 1111.3 2033.0 1110.4 2036.0 1110.4 2039.0 1110.5 2042.0 1113.2 2045.0 1117.0 2048.0 1120.4 2051.0 1123.7 2054.0 1124.2 2057.0 1121.9 2060.0 1120.7 2063.0 1119.6 2066.0 1119.2 2069.0 1119.6 2072.0 1119.9 2075.0 1119.0 2078.0 1120.7 2081.0 1121.3 2084.0 1123.4 2087.0 1126.3 2090.0 1128.4 2093.0 1126.9 2096.0 1124.7 2099.0 1124.3 2102.0 1121.8 2105.0 1120.8 2108.0 1122.4 2111.0 1124.5 2114.0 1127.2 2117.0 1129.2 2120.0 1131.2 2123.0 1130.0 2126.0 1128.9 2129.0 1127.8 2132.0 1127.1 2135.0 1128.2 2138.0 1131.2 2141.0 1132.8 2144.0 1133.3 2147.0 1135.9 2150.0 1137.2 2153.0 1137.8 2156.0 1139.2 2159.0 1140.4 2162.0 1141.2 2165.0 1141.0 2168.0 1141.4 2171.0 1142.6 2174.0 1143.7 2177.0 1142.7 2180.0 1140.8 2183.0 1139.9 2186.0 1139.8 2189.0 1141.1 2192.0 1141.9 2195.0 1142.5 2198.0 1144.8 2201.0 1146.3 2204.0 1147.0 2207.0 1148.3 2210.0 1150.9 2213.0 1152.4 2216.0 1150.4 2219.0 1150.2 2222.0 1148.5 2225.0 1146.1 2228.0 1144.0 2231.0 1143.1 2234.0 1142.0 2237.0 1142.0 2240.0 1143.1 2243.0 1145.2 2246.0 1146.1 2249.0 1148.5 2252.0 1152.2 2255.0 1153.1 2258.0 1153.2 2261.0 1152.1 2264.0 1149.2 2267.0 1148.5 2270.0 1149.2 2273.0 1151.0 2276.0 1152.7 2279.0 1151.9 2282.0 1153.7 2285.0 1155.2 2288.0 1155.7 2291.0 1157.8 2294.0 1159.5 2297.0 1161.9 2300.0 1163.5 2303.0 1163.0 2306.0 1161.2 2309.0 1160.1 2312.0 1161.0 2315.0 1160.4 2318.0 1161.5 2321.0 1163.5 2324.0 1164.0 2327.0 1167.3 2330.0 1168.7 2333.0 1170.0 2336.0 1172.6 2339.0 1174.3 2342.0 1173.9 2345.0 1172.0 2348.0 1171.7 2351.0 1171.3 2354.0 1172.6 2357.0 1173.0 2360.0 1172.9 2363.0 1173.2 2366.0 1171.6 2369.0 1169.2 2372.0 1167.8 2375.0 1169.7 2378.0 1171.3 2381.0 1175.2 2384.0 1181.0 2387.0 1179.7 2390.0 1179.7 2393.0 1178.3 2396.0 1178.2 2399.0 1179.7 2401.0 1181.1" stroke="#0000fe" stroke-width="12.5" clip-path="url(#k1)"/><circle cx="2400.0" cy="1181.1" r="6.1" fill="#0000fe" stroke="none"/>
<path d="M284.6 1002.3L292.6 1000.2C295.5 999.4 302.8 997.2 309.8 995.6C316.8 994.0 326.4 991.9 334.7 990.3C343.0 988.7 351.4 987.5 359.7 985.9C368.0 984.3 376.3 982.6 384.6 980.9C392.9 979.2 401.2 977.6 409.5 975.9C417.8 974.2 426.1 972.7 434.4 970.9C442.7 969.1 451.0 967.2 459.3 965.3C467.6 963.4 475.9 961.4 484.2 959.7C492.5 958.1 500.9 956.6 509.2 955.4C517.5 954.2 525.6 953.1 534.1 952.3C542.6 951.4 551.5 950.7 560.0 950.3C568.5 949.9 576.6 950.3 584.9 949.8C593.2 949.3 601.5 947.8 609.8 947.3C618.1 946.8 626.4 946.3 634.7 946.6C643.0 946.9 651.4 948.0 659.7 949.1C668.0 950.2 676.3 952.1 684.6 953.5C692.9 954.9 701.2 956.2 709.5 957.2C717.8 958.2 726.1 959.2 734.4 959.7C742.7 960.2 751.0 960.3 759.3 960.4C767.6 960.5 775.9 960.2 784.2 960.4C792.5 960.6 800.9 960.9 809.2 961.6C817.5 962.3 825.6 963.6 834.1 964.7C842.6 965.8 851.5 967.2 860.0 968.3C868.5 969.4 876.6 969.8 884.9 971.3C893.2 972.8 901.5 975.9 909.8 977.5C918.1 979.1 926.4 980.5 934.7 981.0C943.0 981.5 952.4 981.0 959.7 980.7C967.0 980.5 972.2 978.6 978.4 979.5C984.6 980.4 991.8 984.7 997.0 986.0C1002.2 987.3 1005.3 987.5 1009.5 987.5C1013.7 987.5 1016.8 985.9 1022.0 986.2C1027.2 986.5 1034.4 988.1 1040.6 989.5C1046.8 990.9 1053.1 992.5 1059.3 994.4C1065.5 996.3 1072.8 998.8 1078.0 1000.7C1083.2 1002.6 1086.8 1004.7 1090.5 1005.6C1094.2 1006.5 1098.4 1005.9 1100.0 1006.0L1103.0 1006.1 1106.0 1006.6 1109.0 1007.4 1112.0 1008.3 1115.0 1009.1 1118.0 1009.7 1121.0 1009.9 1124.0 1009.6 1127.0 1009.0 1130.0 1008.4 1133.0 1007.9 1136.0 1007.7 1139.0 1007.4 1142.0 1007.2 1145.0 1007.1 1148.0 1007.1 1151.0 1007.2 1154.0 1007.5 1157.0 1008.0 1160.0 1008.3 1163.0 1008.7 1166.0 1009.4 1169.0 1009.9 1172.0 1010.5 1175.0 1011.3 1178.0 1012.1 1181.0 1012.4 1184.0 1012.8 1187.0 1013.1 1190.0 1013.1 1193.0 1013.2 1196.0 1013.3 1199.0 1013.4 1202.0 1013.6 1205.0 1013.5 1208.0 1013.5 1211.0 1013.9 1214.0 1014.3 1217.0 1014.8 1220.0 1015.6 1223.0 1016.6 1226.0 1017.3 1229.0 1018.0 1232.0 1018.8 1235.0 1019.4 1238.0 1020.2 1241.0 1020.9 1244.0 1021.1 1247.0 1021.8 1250.0 1022.4 1253.0 1022.7 1256.0 1023.1 1259.0 1023.7 1262.0 1024.3 1265.0 1025.2 1268.0 1025.8 1271.0 1026.1 1274.0 1026.7 1277.0 1027.4 1280.0 1027.8 1283.0 1028.8 1286.0 1029.5 1289.0 1030.2 1292.0 1031.3 1295.0 1032.6 1298.0 1034.1 1301.0 1035.4 1304.0 1036.3 1307.0 1037.0 1310.0 1037.5 1313.0 1038.6 1316.0 1038.8 1319.0 1038.4 1322.0 1038.6 1325.0 1038.1 1328.0 1037.6 1331.0 1037.6 1334.0 1037.5 1337.0 1037.6 1340.0 1037.2 1343.0 1036.6 1346.0 1036.7 1349.0 1036.5 1352.0 1036.1 1355.0 1036.4 1358.0 1036.9 1361.0 1038.0 1364.0 1038.5 1367.0 1039.7 1370.0 1040.7 1373.0 1041.0 1376.0 1041.5 1379.0 1043.0 1382.0 1043.6 1385.0 1044.0 1388.0 1044.7 1391.0 1045.7 1394.0 1046.3 1397.0 1046.7 1400.0 1047.4 1403.0 1047.3 1406.0 1047.3 1409.0 1048.2 1412.0 1048.4 1415.0 1049.0 1418.0 1049.2 1421.0 1049.6 1424.0 1050.1 1427.0 1051.3 1430.0 1052.2 1433.0 1053.5 1436.0 1055.3 1439.0 1056.7 1442.0 1057.2 1445.0 1057.7 1448.0 1058.6 1451.0 1059.1 1454.0 1059.0 1457.0 1059.4 1460.0 1060.0 1463.0 1059.6 1466.0 1058.8 1469.0 1057.7 1472.0 1057.7 1475.0 1057.7 1478.0 1057.1 1481.0 1057.3 1484.0 1058.8 1487.0 1059.8 1490.0 1060.5 1493.0 1061.1 1496.0 1061.7 1499.0 1062.5 1502.0 1063.2 1505.0 1063.7 1508.0 1063.8 1511.0 1063.5 1514.0 1064.0 1517.0 1064.0 1520.0 1065.8 1523.0 1068.7 1526.0 1070.9 1529.0 1073.5 1532.0 1075.4 1535.0 1076.1 1538.0 1075.5 1541.0 1074.6 1544.0 1073.4 1547.0 1073.4 1550.0 1073.3 1553.0 1074.3 1556.0 1075.3 1559.0 1076.5 1562.0 1077.4 1565.0 1077.9 1568.0 1078.1 1571.0 1077.5 1574.0 1077.0 1577.0 1077.5 1580.0 1077.2 1583.0 1076.5 1586.0 1077.1 1589.0 1078.2 1592.0 1079.2 1595.0 1080.3 1598.0 1081.0 1601.0 1082.9 1604.0 1084.2 1607.0 1085.6 1610.0 1086.6 1613.0 1087.0 1616.0 1088.9 1619.0 1089.5 1622.0 1090.3 1625.0 1090.7 1628.0 1090.6 1631.0 1090.8 1634.0 1091.7 1637.0 1091.9 1640.0 1092.3 1643.0 1093.3 1646.0 1092.9 1649.0 1092.6 1652.0 1093.2 1655.0 1094.1 1658.0 1094.9 1661.0 1094.6 1664.0 1095.0 1667.0 1095.8 1670.0 1097.3 1673.0 1099.7 1676.0 1102.6 1679.0 1103.5 1682.0 1104.1 1685.0 1104.3 1688.0 1103.6 1691.0 1102.4 1694.0 1101.4 1697.0 1101.6 1700.0 1100.7 1703.0 1100.5 1706.0 1100.9 1709.0 1101.3 1712.0 1103.2 1715.0 1103.8 1718.0 1105.0 1721.0 1106.3 1724.0 1106.7 1727.0 1106.2 1730.0 1107.0 1733.0 1107.0 1736.0 1108.0 1739.0 1107.8 1742.0 1108.7 1745.0 1110.5 1748.0 1112.1 1751.0 1113.4 1754.0 1114.7 1757.0 1116.0 1760.0 1116.8 1763.0 1117.1 1766.0 1117.0 1769.0 1116.3 1772.0 1116.7 1775.0 1116.6 1778.0 1116.3 1781.0 1117.1 1784.0 1117.6 1787.0 1117.4 1790.0 1118.1 1793.0 1119.2 1796.0 1120.5 1799.0 1121.3 1802.0 1120.6 1805.0 1120.1 1808.0 1119.3 1811.0 1119.0 1814.0 1119.7 1817.0 1120.9 1820.0 1123.0 1823.0 1125.1 1826.0 1126.0 1829.0 1126.2 1832.0 1127.4 1835.0 1128.6 1838.0 1129.2 1841.0 1128.3 1844.0 1128.2 1847.0 1128.7 1850.0 1129.2 1853.0 1129.7 1856.0 1129.7 1859.0 1130.2 1862.0 1131.4 1865.0 1130.9 1868.0 1130.8 1871.0 1129.1 1874.0 1128.6 1877.0 1129.8 1880.0 1131.8 1883.0 1132.2 1886.0 1133.6 1889.0 1134.0 1892.0 1135.7 1895.0 1136.7 1898.0 1137.0 1901.0 1136.1 1904.0 1134.6 1907.0 1134.9 1910.0 1135.4 1913.0 1137.3 1916.0 1140.1 1919.0 1142.0 1922.0 1142.1 1925.0 1140.8 1928.0 1140.0 1931.0 1137.6 1934.0 1136.9 1937.0 1136.5 1940.0 1135.5 1943.0 1136.2 1946.0 1137.1 1949.0 1137.3 1952.0 1138.3 1955.0 1138.4 1958.0 1139.2 1961.0 1141.0 1964.0 1141.9 1967.0 1142.8 1970.0 1144.1 1973.0 1144.2 1976.0 1144.6 1979.0 1144.9 1982.0 1146.3 1985.0 1146.8 1988.0 1146.4 1991.0 1147.4 1994.0 1147.1 1997.0 1148.1 2000.0 1148.3 2003.0 1148.4 2006.0 1148.3 2009.0 1148.2 2012.0 1148.5 2015.0 1149.0 2018.0 1149.7 2021.0 1149.2 2024.0 1149.7 2027.0 1150.3 2030.0 1151.2 2033.0 1152.5 2036.0 1153.1 2039.0 1154.1 2042.0 1153.9 2045.0 1153.6 2048.0 1155.3 2051.0 1156.6 2054.0 1157.4 2057.0 1156.7 2060.0 1156.9 2063.0 1157.3 2066.0 1157.7 2069.0 1158.7 2072.0 1159.1 2075.0 1158.4 2078.0 1156.1 2081.0 1153.4 2084.0 1151.6 2087.0 1150.8 2090.0 1149.3 2093.0 1150.4 2096.0 1154.5 2099.0 1158.8 2102.0 1161.6 2105.0 1161.8 2108.0 1162.8 2111.0 1162.0 2114.0 1161.5 2117.0 1160.9 2120.0 1160.6 2123.0 1162.3 2126.0 1162.9 2129.0 1161.5 2132.0 1162.4 2135.0 1162.5 2138.0 1161.7 2141.0 1163.5 2144.0 1162.9 2147.0 1162.3 2150.0 1164.3 2153.0 1165.5 2156.0 1164.6 2159.0 1165.9 2162.0 1167.2 2165.0 1169.3 2168.0 1170.5 2171.0 1171.4 2174.0 1172.0 2177.0 1171.8 2180.0 1173.1 2183.0 1174.3 2186.0 1175.4 2189.0 1175.8 2192.0 1176.5 2195.0 1174.8 2198.0 1173.0 2201.0 1173.0 2204.0 1171.8 2207.0 1171.9 2210.0 1170.8 2213.0 1169.9 2216.0 1170.8 2219.0 1172.4 2222.0 1173.5 2225.0 1174.2 2228.0 1174.9 2231.0 1177.4 2234.0 1178.6 2237.0 1180.4 2240.0 1180.3 2243.0 1182.1 2246.0 1183.6 2249.0 1182.5 2252.0 1181.2 2255.0 1177.0 2258.0 1171.1 2261.0 1169.9 2264.0 1170.3 2267.0 1172.5 2270.0 1175.4 2273.0 1177.1 2276.0 1177.2 2279.0 1180.3 2282.0 1181.8 2285.0 1183.3 2288.0 1184.8 2291.0 1186.6 2294.0 1188.5 2297.0 1190.0 2300.0 1191.8 2303.0 1193.0 2306.0 1192.8 2309.0 1192.6 2312.0 1191.0 2315.0 1189.9 2318.0 1191.2 2321.0 1192.1 2324.0 1191.5 2327.0 1191.2 2330.0 1191.4 2333.0 1192.4 2336.0 1192.8 2339.0 1192.8 2342.0 1191.9 2345.0 1191.7 2348.0 1192.1 2351.0 1190.2 2354.0 1188.5 2357.0 1189.9 2360.0 1189.5 2363.0 1190.7 2366.0 1191.6 2369.0 1191.3 2372.0 1190.6 2375.0 1192.6 2378.0 1193.3 2381.0 1194.0 2384.0 1196.1 2387.0 1196.5 2390.0 1196.8 2393.0 1197.2 2396.0 1198.7 2399.0 1201.0 2401.0 1201.2" stroke="#0cfa0c" stroke-width="12.5" clip-path="url(#k2)"/><circle cx="2400.0" cy="1201.2" r="6.1" fill="#0cfa0c" stroke="none"/>
<path d="M264.5 1007.0L272.5 1007.1C276.6 1007.1 289.1 1007.9 297.4 1007.3C305.7 1006.7 314.0 1004.8 322.3 1003.3C330.6 1001.8 338.9 1000.2 347.2 998.4C355.5 996.6 363.8 994.7 372.1 992.7C380.4 990.7 388.7 988.5 397.0 986.5C405.3 984.5 413.7 982.7 422.0 980.9C430.3 979.1 438.6 977.4 446.9 975.9C455.2 974.4 463.5 972.8 471.8 971.6C480.1 970.4 488.4 969.3 496.7 968.5C505.0 967.7 513.3 967.2 521.6 967.0C529.9 966.8 540.1 966.9 546.5 967.2C552.9 967.5 553.6 968.2 560.0 968.8C566.4 969.4 576.6 970.3 584.9 970.7C593.2 971.1 601.5 970.6 609.8 971.2C618.1 971.8 626.4 972.7 634.7 974.1C643.0 975.5 651.4 978.0 659.7 979.7C668.0 981.4 676.3 983.5 684.6 984.4C692.9 985.3 701.2 985.1 709.5 985.3C717.8 985.5 726.1 985.3 734.4 985.6C742.7 985.9 751.0 986.4 759.3 987.1C767.6 987.8 775.9 988.8 784.2 989.6C792.5 990.4 800.9 991.3 809.2 992.1C817.5 992.9 827.9 993.6 834.1 994.6C840.3 995.6 842.2 996.8 846.5 998.3C850.8 999.8 854.6 1001.8 860.0 1003.3C865.4 1004.8 872.5 1006.1 878.7 1007.1C884.9 1008.1 890.1 1009.1 897.4 1009.4C904.7 1009.7 915.0 1008.6 922.3 1009.0C929.6 1009.4 934.8 1010.8 941.0 1011.9C947.2 1013.0 953.5 1014.0 959.7 1015.6C965.9 1017.2 972.2 1020.1 978.4 1021.8C984.6 1023.5 990.8 1024.3 997.0 1025.6C1003.2 1026.8 1009.5 1027.8 1015.7 1029.3C1021.9 1030.8 1028.2 1032.5 1034.4 1034.3C1040.6 1036.0 1046.9 1038.5 1053.1 1039.8C1059.3 1041.1 1065.6 1041.3 1071.8 1042.3C1078.0 1043.3 1085.8 1045.0 1090.5 1045.8C1095.2 1046.6 1098.4 1046.7 1100.0 1046.9L1103.0 1047.2 1106.0 1047.5 1109.0 1048.0 1112.0 1048.5 1115.0 1049.1 1118.0 1049.8 1121.0 1050.5 1124.0 1051.2 1127.0 1052.0 1130.0 1052.7 1133.0 1053.5 1136.0 1054.2 1139.0 1055.1 1142.0 1055.8 1145.0 1056.7 1148.0 1057.4 1151.0 1058.1 1154.0 1058.8 1157.0 1059.4 1160.0 1060.0 1163.0 1060.6 1166.0 1061.5 1169.0 1062.4 1172.0 1063.1 1175.0 1063.9 1178.0 1064.6 1181.0 1064.9 1184.0 1065.2 1187.0 1065.7 1190.0 1065.9 1193.0 1066.3 1196.0 1066.5 1199.0 1067.0 1202.0 1067.8 1205.0 1068.3 1208.0 1069.1 1211.0 1069.6 1214.0 1069.8 1217.0 1070.1 1220.0 1070.5 1223.0 1070.6 1226.0 1070.4 1229.0 1070.6 1232.0 1071.3 1235.0 1071.8 1238.0 1073.2 1241.0 1075.3 1244.0 1077.2 1247.0 1077.9 1250.0 1078.2 1253.0 1078.7 1256.0 1079.0 1259.0 1079.7 1262.0 1079.5 1265.0 1079.1 1268.0 1079.3 1271.0 1079.4 1274.0 1079.5 1277.0 1079.5 1280.0 1079.4 1283.0 1079.1 1286.0 1079.3 1289.0 1080.4 1292.0 1082.1 1295.0 1084.3 1298.0 1085.9 1301.0 1087.5 1304.0 1088.5 1307.0 1089.6 1310.0 1090.2 1313.0 1090.8 1316.0 1091.2 1319.0 1091.5 1322.0 1091.3 1325.0 1091.6 1328.0 1092.1 1331.0 1092.7 1334.0 1094.7 1337.0 1096.7 1340.0 1098.3 1343.0 1101.0 1346.0 1102.8 1349.0 1104.4 1352.0 1104.8 1355.0 1103.9 1358.0 1103.6 1361.0 1103.4 1364.0 1103.7 1367.0 1105.0 1370.0 1106.3 1373.0 1107.0 1376.0 1106.8 1379.0 1106.7 1382.0 1107.0 1385.0 1106.8 1388.0 1106.0 1391.0 1104.9 1394.0 1102.9 1397.0 1100.3 1400.0 1098.6 1403.0 1097.0 1406.0 1096.8 1409.0 1096.9 1412.0 1097.4 1415.0 1098.6 1418.0 1100.1 1421.0 1100.9 1424.0 1102.2 1427.0 1103.3 1430.0 1103.9 1433.0 1103.8 1436.0 1104.1 1439.0 1105.0 1442.0 1105.9 1445.0 1106.5 1448.0 1107.6 1451.0 1109.2 1454.0 1109.9 1457.0 1109.4 1460.0 1109.4 1463.0 1110.4 1466.0 1110.5 1469.0 1110.0 1472.0 1110.2 1475.0 1110.6 1478.0 1111.7 1481.0 1112.3 1484.0 1114.2 1487.0 1115.6 1490.0 1116.6 1493.0 1117.1 1496.0 1117.2 1499.0 1117.8 1502.0 1117.3 1505.0 1116.2 1508.0 1116.1 1511.0 1116.2 1514.0 1116.6 1517.0 1116.9 1520.0 1118.2 1523.0 1118.7 1526.0 1119.4 1529.0 1119.9 1532.0 1119.9 1535.0 1120.4 1538.0 1120.2 1541.0 1120.7 1544.0 1122.1 1547.0 1124.5 1550.0 1126.4 1553.0 1127.5 1556.0 1127.7 1559.0 1128.2 1562.0 1127.3 1565.0 1126.6 1568.0 1126.1 1571.0 1124.5 1574.0 1123.2 1577.0 1122.8 1580.0 1123.4 1583.0 1124.1 1586.0 1124.8 1589.0 1126.0 1592.0 1127.2 1595.0 1128.8 1598.0 1129.3 1601.0 1130.4 1604.0 1130.8 1607.0 1131.7 1610.0 1132.8 1613.0 1133.8 1616.0 1134.2 1619.0 1134.9 1622.0 1135.6 1625.0 1135.9 1628.0 1136.4 1631.0 1137.2 1634.0 1137.6 1637.0 1138.0 1640.0 1137.5 1643.0 1137.2 1646.0 1136.1 1649.0 1135.1 1652.0 1136.1 1655.0 1136.3 1658.0 1137.4 1661.0 1139.1 1664.0 1141.1 1667.0 1142.4 1670.0 1143.2 1673.0 1143.0 1676.0 1142.0 1679.0 1141.0 1682.0 1140.4 1685.0 1140.4 1688.0 1140.3 1691.0 1142.0 1694.0 1142.9 1697.0 1143.7 1700.0 1145.1 1703.0 1146.1 1706.0 1146.6 1709.0 1146.6 1712.0 1147.3 1715.0 1148.3 1718.0 1147.9 1721.0 1148.4 1724.0 1147.9 1727.0 1148.6 1730.0 1148.6 1733.0 1148.3 1736.0 1148.2 1739.0 1148.6 1742.0 1148.3 1745.0 1148.3 1748.0 1148.5 1751.0 1150.0 1754.0 1149.9 1757.0 1149.7 1760.0 1150.8 1763.0 1144.0 1766.0 1133.6 1769.0 1126.5 1772.0 1129.9 1775.0 1136.5 1778.0 1141.7 1781.0 1145.1 1784.0 1145.0 1787.0 1145.3 1790.0 1145.1 1793.0 1145.2 1796.0 1146.8 1799.0 1149.0 1802.0 1151.4 1805.0 1153.8 1808.0 1154.0 1811.0 1155.0 1814.0 1155.2 1817.0 1155.5 1820.0 1154.7 1823.0 1153.0 1826.0 1152.3 1829.0 1149.7 1832.0 1146.2 1835.0 1144.0 1838.0 1146.3 1841.0 1148.8 1844.0 1152.1 1847.0 1157.2 1850.0 1159.8 1853.0 1159.6 1856.0 1158.4 1859.0 1158.7 1862.0 1159.2 1865.0 1159.0 1868.0 1156.7 1871.0 1154.8 1874.0 1154.2 1877.0 1154.2 1880.0 1155.3 1883.0 1158.3 1886.0 1160.9 1889.0 1162.3 1892.0 1162.6 1895.0 1161.3 1898.0 1161.0 1901.0 1160.9 1904.0 1160.5 1907.0 1160.2 1910.0 1161.3 1913.0 1163.7 1916.0 1165.2 1919.0 1166.6 1922.0 1166.1 1925.0 1164.3 1928.0 1162.7 1931.0 1160.4 1934.0 1158.4 1937.0 1158.8 1940.0 1161.9 1943.0 1163.0 1946.0 1164.0 1949.0 1165.7 1952.0 1167.1 1955.0 1168.6 1958.0 1167.5 1961.0 1165.6 1964.0 1165.5 1967.0 1166.1 1970.0 1164.9 1973.0 1166.3 1976.0 1167.3 1979.0 1165.9 1982.0 1164.1 1985.0 1162.4 1988.0 1162.8 1991.0 1162.8 1994.0 1163.1 1997.0 1162.9 2000.0 1164.5 2003.0 1165.0 2006.0 1165.5 2009.0 1165.1 2012.0 1166.2 2015.0 1166.3 2018.0 1166.2 2021.0 1167.6 2024.0 1167.7 2027.0 1169.0 2030.0 1169.3 2033.0 1168.7 2036.0 1169.6 2039.0 1170.1 2042.0 1167.5 2045.0 1165.1 2048.0 1165.6 2051.0 1166.5 2054.0 1164.2 2057.0 1163.6 2060.0 1161.4 2063.0 1159.7 2066.0 1158.8 2069.0 1158.6 2072.0 1158.2 2075.0 1156.6 2078.0 1156.2 2081.0 1157.6 2084.0 1158.7 2087.0 1159.9 2090.0 1162.8 2093.0 1165.8 2096.0 1168.7 2099.0 1171.7 2102.0 1172.8 2105.0 1175.1 2108.0 1177.2 2111.0 1178.1 2114.0 1179.6 2117.0 1180.4 2120.0 1177.6 2123.0 1174.4 2126.0 1174.5 2129.0 1172.0 2132.0 1171.4 2135.0 1169.7 2138.0 1169.9 2141.0 1173.7 2144.0 1176.9 2147.0 1175.8 2150.0 1174.5 2153.0 1173.8 2156.0 1172.9 2159.0 1173.1 2162.0 1174.9 2165.0 1175.6 2168.0 1176.9 2171.0 1176.6 2174.0 1174.3 2177.0 1173.9 2180.0 1174.0 2183.0 1172.6 2186.0 1170.8 2189.0 1167.7 2192.0 1167.2 2195.0 1166.9 2198.0 1170.2 2201.0 1175.0 2204.0 1175.7 2207.0 1173.9 2210.0 1173.4 2213.0 1172.6 2216.0 1175.0 2219.0 1179.3 2222.0 1180.6 2225.0 1180.0 2228.0 1178.7 2231.0 1177.1 2234.0 1177.8 2237.0 1176.2 2240.0 1174.8 2243.0 1176.4 2246.0 1177.9 2249.0 1177.4 2252.0 1178.9 2255.0 1180.3 2258.0 1180.8 2261.0 1177.2 2264.0 1169.3 2267.0 1157.9 2270.0 1152.3 2273.0 1154.2 2276.0 1159.5 2279.0 1165.1 2282.0 1169.3 2285.0 1177.6 2288.0 1179.2 2291.0 1179.3 2294.0 1179.7 2297.0 1178.2 2300.0 1179.9 2303.0 1182.0 2306.0 1184.7 2309.0 1185.5 2312.0 1183.9 2315.0 1184.2 2318.0 1186.1 2321.0 1187.6 2324.0 1186.4 2327.0 1186.2 2330.0 1185.8 2333.0 1184.3 2336.0 1183.4 2339.0 1182.7 2342.0 1184.2 2345.0 1182.8 2348.0 1182.2 2351.0 1183.3 2354.0 1185.8 2357.0 1187.6 2360.0 1186.1 2363.0 1186.7 2366.0 1186.8 2369.0 1186.6 2372.0 1189.2 2375.0 1189.3 2378.0 1190.1 2381.0 1191.5 2384.0 1192.0 2387.0 1191.7 2390.0 1192.4 2393.0 1193.2 2396.0 1193.4 2399.0 1191.0 2401.0 1192.1" stroke="#fc0000" stroke-width="12.5" clip-path="url(#k3)"/><circle cx="2400.0" cy="1192.1" r="6.1" fill="#fc0000" stroke="none"/>
</g>
<text class="t" transform="translate(246.6 1380.7) scale(1.012 1.045)" text-anchor="end">-20</text>
<text class="t" transform="translate(246.6 1219.9) scale(1.012 1.045)" text-anchor="end">0</text>
<text class="t" transform="translate(246.6 1059.1) scale(1.012 1.045)" text-anchor="end">20</text>
<text class="t" transform="translate(246.6 898.4) scale(1.012 1.045)" text-anchor="end">40</text>
<text class="t" transform="translate(246.6 737.6) scale(1.012 1.045)" text-anchor="end">60</text>
<text class="t" transform="translate(246.6 576.8) scale(1.012 1.045)" text-anchor="end">80</text>
<text class="t" transform="translate(246.6 416.1) scale(1.012 1.045)" text-anchor="end">100</text>
<text class="t" transform="translate(246.6 255.3) scale(1.012 1.045)" text-anchor="end">120</text>
<text class="t" transform="translate(246.6 94.5) scale(1.012 1.045)" text-anchor="end">140</text>
<text class="t" transform="translate(217.3 1462) scale(1.01 1.04)">10<tspan class="s" dy="-29.6">-2</tspan></text>
<text class="t" transform="translate(749.9 1462) scale(1.01 1.04)">10<tspan class="s" dy="-29.6">-1</tspan></text>
<text class="t" transform="translate(1289.8 1462) scale(1.01 1.04)">10<tspan class="s" dy="-29.6" dx="-2.3">0</tspan></text>
<text class="t" transform="translate(1822.4 1462) scale(1.01 1.04)">10<tspan class="s" dy="-29.6" dx="-2.3">1</tspan></text>
<text class="t" transform="translate(2355.0 1462) scale(1.01 1.04)">10<tspan class="s" dy="-29.6" dx="-2.3">2</tspan></text>
<text class="t" x="1336" y="1540.3" text-anchor="middle">Frequency (Hz)</text>
<g transform="translate(116.8 714) rotate(-90)"><text class="t" x="-314.1">PSD (dB/Hz<tspan x="18.1">ref</tspan><tspan x="108.5">20</tspan><tspan x="229.8">Pa)</tspan></text><text class="t" font-style="italic" transform="translate(190 0) scale(1.17 1)">μ</text></g>
<rect x="1584.2" y="91.0" width="801.1" height="459.9" fill="#fff" stroke="#000" stroke-width="4.6"/>
<path d="M1605.3 131.7H1737.9" stroke="#0808b8" stroke-width="6.2" stroke-dasharray="4.2 4.3"/>
<text class="l" x="1772.7" y="141.7">global low (Brown et al., 2014)</text>
<path d="M1605.3 186.8H1737.9" stroke="#c4141c" stroke-width="6.2" stroke-dasharray="4.2 4.3"/>
<text class="l" x="1772.7" y="197.3">global high (Brown et al., 2014)</text>
<path d="M1605.3 241.5H1737.9" stroke="#0404dc" stroke-width="6.2" stroke-dasharray="16.9 16.9"/>
<text class="l" x="1772.7" y="252.9">global low (Marty et al., 2021)</text>
<path d="M1605.3 296.4H1737.9" stroke="#e00a0a" stroke-width="6.2" stroke-dasharray="16.9 16.9"/>
<text class="l" x="1772.7" y="308.5">global high (Marty et al., 2021)</text>
<path d="M1605.3 350.8H1737.9" stroke="#000" stroke-width="8.4"/>
<text class="l" x="1772.7" y="364.1">OSU1-W</text>
<path d="M1605.3 405.8H1737.9" stroke="#0000fe" stroke-width="8.4"/>
<text class="l" x="1772.7" y="419.7">OSU1-N</text>
<path d="M1605.3 460.3H1737.9" stroke="#0cfa0c" stroke-width="8.4"/>
<text class="l" x="1772.7" y="475.3">OSU1-S (Jan 2017 – Mar 2021)</text>
<path d="M1605.3 515.4H1737.9" stroke="#fc0000" stroke-width="8.4"/>
<text class="l" x="1772.7" y="530.9">OSU1-S (Apr 2021 – Aug 2022)</text>
</svg></body></html>
